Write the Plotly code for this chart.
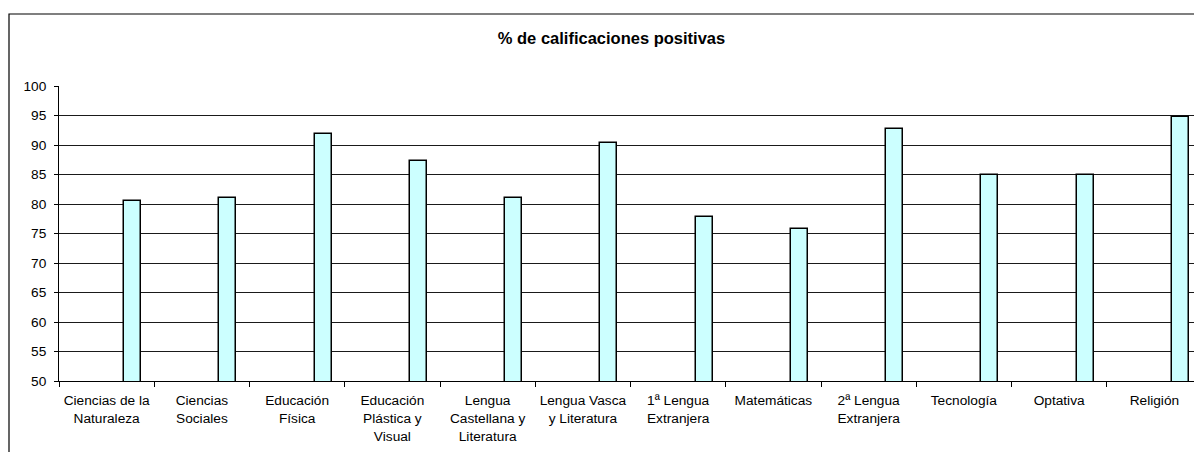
import plotly.graph_objects as go

# asignaturas y % de calificaciones positivas
asignaturas = [
    "Ciencias de la<br>Naturaleza",
    "Ciencias<br>Sociales",
    "Educación<br>Física",
    "Educación<br>Plástica y<br>Visual",
    "Lengua<br>Castellana y<br>Literatura",
    "Lengua Vasca<br>y Literatura",
    "1ª Lengua<br>Extranjera",
    "Matemáticas",
    "2ª Lengua<br>Extranjera",
    "Tecnología",
    "Optativa",
    "Religión",
]
positivas = [80.5, 81.0, 91.8, 87.3, 81.1, 90.3, 77.8, 75.7, 92.7, 84.9, 85.0, 94.7]

y_ticks = list(range(50, 101, 5))

# la pagina tiene 8px de margen en el body, asi que la figura es algo menor
W, H = 1194, 444
L, R, T, B = 51, 0, 78, 71

fig = go.Figure()
fig.add_trace(go.Bar(
    x=asignaturas,
    y=positivas,
    offset=0.183,
    width=0.18,
    marker=dict(color="#CCFFFF", line=dict(color="#000000", width=1.5)),
    showlegend=False,
    hoverinfo="x+y",
))

# borde exterior del grafico (recortado por la derecha y abajo)
pw = W - L - R
ph = H - T - B
fig.add_shape(type="rect", xref="paper", yref="paper",
              x0=(1 - L) / pw, x1=1.05,
              y0=-0.5, y1=(H - B - 6) / ph,
              line=dict(color="#000000", width=1.2), layer="below")

fig.update_layout(
    width=W, height=H,
    margin=dict(l=L, r=R, t=T, b=B, pad=0),
    paper_bgcolor="white",
    plot_bgcolor="white",
    font=dict(family="Liberation Sans, Arial, sans-serif", size=13.7, color="#000000"),
    title=dict(text="<b>% de calificaciones positivas</b>",
               x=603.5 / W, xanchor="center",
               y=1 - 30 / H, yanchor="middle",
               font=dict(size=16.5, color="#000000")),
    bargap=0,
)
fig.update_xaxes(
    type="category",
    showline=True, linecolor="#000000", linewidth=1,
    ticks="outside", ticklen=5, tickcolor="#000000",
    tickson="boundaries",
    ticklabelstandoff=7,
    showgrid=False,
    tickangle=0,
    fixedrange=True,
)
fig.update_yaxes(
    range=[50, 100],
    tickvals=y_ticks,
    showline=True, linecolor="#000000", linewidth=1,
    ticks="outside", ticklen=4, tickcolor="#000000",
    ticklabelstandoff=5,
    showgrid=True, gridcolor="#1a1a1a", gridwidth=1,
    zeroline=False,
    fixedrange=True,
)

fig.write_html("out.html")
